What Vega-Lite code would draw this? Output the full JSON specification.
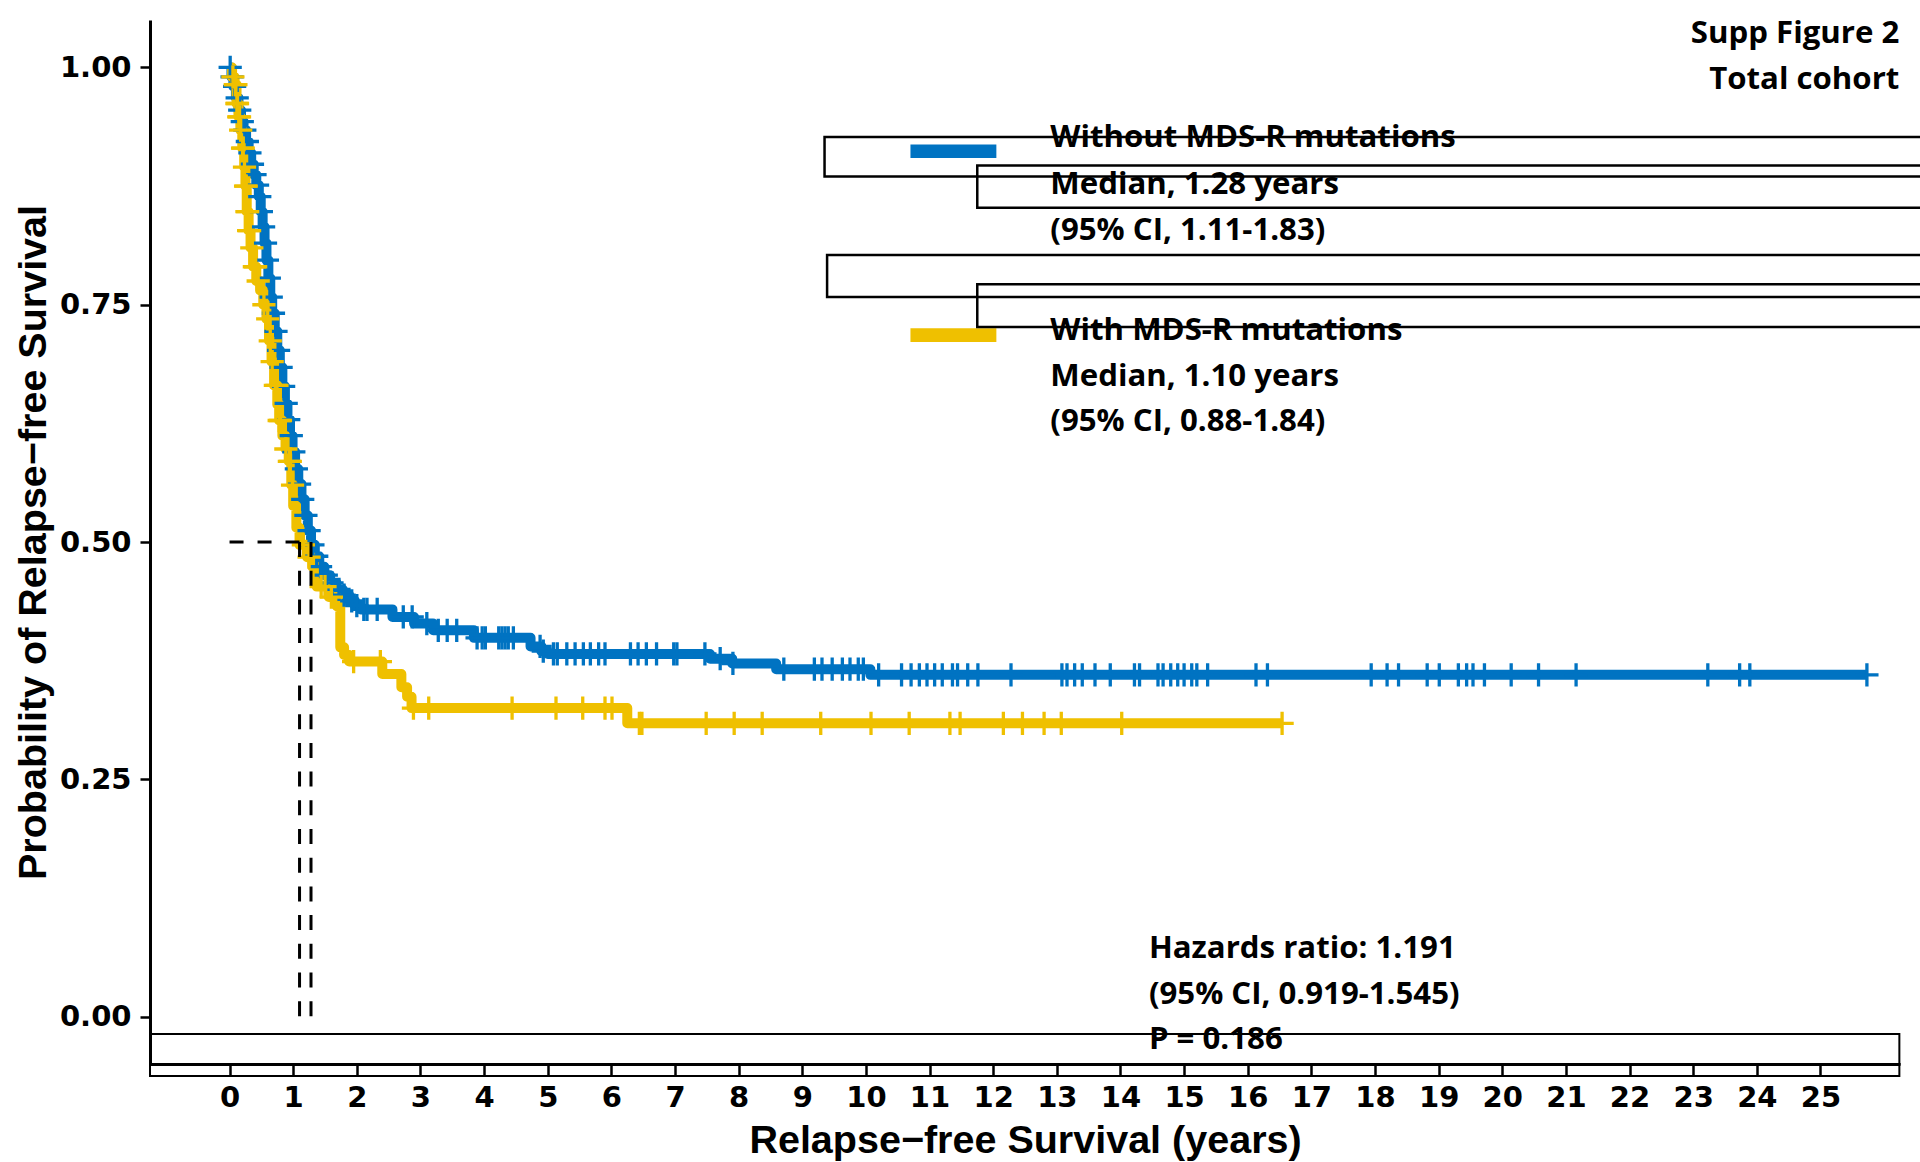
{
  "$schema": "https://vega.github.io/schema/vega-lite/v6.json",
  "autosize": {"type": "none"},
  "padding": {"left": 150, "top": 20, "right": 20, "bottom": 98},
  "width": 1750,
  "height": 1044,
  "background": "white",
  "config": {"view": {"stroke": null}},
  "resolve": {"axis": {"x": "independent", "y": "independent"}},
  "datasets": {
    "km": [
      {"g":"Without","t":0,"s":1.0},{"g":"Without","t":0.03,"s":0.99},{"g":"Without","t":0.06,"s":0.98},{"g":"Without","t":0.1,"s":0.968},{"g":"Without","t":0.14,"s":0.955},{"g":"Without","t":0.18,"s":0.943},{"g":"Without","t":0.22,"s":0.934},{"g":"Without","t":0.26,"s":0.922},{"g":"Without","t":0.3,"s":0.91},{"g":"Without","t":0.34,"s":0.898},{"g":"Without","t":0.38,"s":0.887},{"g":"Without","t":0.42,"s":0.876},{"g":"Without","t":0.46,"s":0.864},{"g":"Without","t":0.49,"s":0.848},{"g":"Without","t":0.52,"s":0.832},{"g":"Without","t":0.55,"s":0.815},{"g":"Without","t":0.58,"s":0.797},{"g":"Without","t":0.61,"s":0.778},{"g":"Without","t":0.64,"s":0.758},{"g":"Without","t":0.67,"s":0.741},{"g":"Without","t":0.71,"s":0.722},{"g":"Without","t":0.75,"s":0.702},{"g":"Without","t":0.79,"s":0.684},{"g":"Without","t":0.83,"s":0.664},{"g":"Without","t":0.87,"s":0.646},{"g":"Without","t":0.91,"s":0.629},{"g":"Without","t":0.95,"s":0.612},{"g":"Without","t":0.99,"s":0.595},{"g":"Without","t":1.03,"s":0.577},{"g":"Without","t":1.08,"s":0.561},{"g":"Without","t":1.13,"s":0.545},{"g":"Without","t":1.18,"s":0.528},{"g":"Without","t":1.23,"s":0.512},{"g":"Without","t":1.28,"s":0.497},{"g":"Without","t":1.34,"s":0.485},{"g":"Without","t":1.41,"s":0.474},{"g":"Without","t":1.49,"s":0.465},{"g":"Without","t":1.58,"s":0.457},{"g":"Without","t":1.68,"s":0.45},{"g":"Without","t":1.78,"s":0.444},{"g":"Without","t":1.88,"s":0.438},{"g":"Without","t":1.97,"s":0.433},{"g":"Without","t":2.06,"s":0.429},{"g":"Without","t":2.56,"s":0.421},{"g":"Without","t":2.9,"s":0.414},{"g":"Without","t":3.2,"s":0.407},{"g":"Without","t":3.84,"s":0.399},{"g":"Without","t":4.73,"s":0.39},{"g":"Without","t":4.9,"s":0.385},{"g":"Without","t":5.0,"s":0.382},{"g":"Without","t":7.55,"s":0.377},{"g":"Without","t":7.9,"s":0.372},{"g":"Without","t":8.59,"s":0.366},{"g":"Without","t":10.07,"s":0.36},{"g":"Without","t":25.73,"s":0.36},
      {"g":"With","t":0,"s":1.0},{"g":"With","t":0.04,"s":0.99},{"g":"With","t":0.08,"s":0.982},{"g":"With","t":0.11,"s":0.962},{"g":"With","t":0.14,"s":0.948},{"g":"With","t":0.17,"s":0.934},{"g":"With","t":0.2,"s":0.915},{"g":"With","t":0.23,"s":0.895},{"g":"With","t":0.25,"s":0.875},{"g":"With","t":0.27,"s":0.848},{"g":"With","t":0.3,"s":0.828},{"g":"With","t":0.33,"s":0.81},{"g":"With","t":0.37,"s":0.79},{"g":"With","t":0.42,"s":0.775},{"g":"With","t":0.48,"s":0.765},{"g":"With","t":0.53,"s":0.75},{"g":"With","t":0.58,"s":0.735},{"g":"With","t":0.62,"s":0.712},{"g":"With","t":0.66,"s":0.69},{"g":"With","t":0.7,"s":0.665},{"g":"With","t":0.75,"s":0.645},{"g":"With","t":0.78,"s":0.628},{"g":"With","t":0.83,"s":0.612},{"g":"With","t":0.88,"s":0.598},{"g":"With","t":0.93,"s":0.585},{"g":"With","t":0.97,"s":0.56},{"g":"With","t":1.0,"s":0.538},{"g":"With","t":1.05,"s":0.515},{"g":"With","t":1.1,"s":0.497},{"g":"With","t":1.22,"s":0.484},{"g":"With","t":1.3,"s":0.474},{"g":"With","t":1.37,"s":0.453},{"g":"With","t":1.56,"s":0.442},{"g":"With","t":1.69,"s":0.432},{"g":"With","t":1.74,"s":0.389},{"g":"With","t":1.8,"s":0.381},{"g":"With","t":1.88,"s":0.374},{"g":"With","t":2.4,"s":0.361},{"g":"With","t":2.7,"s":0.347},{"g":"With","t":2.79,"s":0.337},{"g":"With","t":2.86,"s":0.325},{"g":"With","t":6.25,"s":0.309},{"g":"With","t":16.54,"s":0.309}
    ],
    "cens": [
      {"g":"Without","t":0.01,"s":1.0},{"g":"Without","t":0.04,"s":0.99},{"g":"Without","t":0.08,"s":0.98},{"g":"Without","t":0.12,"s":0.968},{"g":"Without","t":0.16,"s":0.955},{"g":"Without","t":0.2,"s":0.943},{"g":"Without","t":0.24,"s":0.934},{"g":"Without","t":0.28,"s":0.922},{"g":"Without","t":0.32,"s":0.91},{"g":"Without","t":0.36,"s":0.898},{"g":"Without","t":0.4,"s":0.887},{"g":"Without","t":0.44,"s":0.876},{"g":"Without","t":0.475,"s":0.864},{"g":"Without","t":0.5,"s":0.848},{"g":"Without","t":0.535,"s":0.832},{"g":"Without","t":0.565,"s":0.815},{"g":"Without","t":0.595,"s":0.797},{"g":"Without","t":0.625,"s":0.778},{"g":"Without","t":0.655,"s":0.758},{"g":"Without","t":0.69,"s":0.741},{"g":"Without","t":0.73,"s":0.722},{"g":"Without","t":0.77,"s":0.702},{"g":"Without","t":0.81,"s":0.684},{"g":"Without","t":0.85,"s":0.664},{"g":"Without","t":0.89,"s":0.646},{"g":"Without","t":0.93,"s":0.629},{"g":"Without","t":0.97,"s":0.612},{"g":"Without","t":1.01,"s":0.595},{"g":"Without","t":1.05,"s":0.577},{"g":"Without","t":1.1,"s":0.561},{"g":"Without","t":1.15,"s":0.545},{"g":"Without","t":1.2,"s":0.528},{"g":"Without","t":1.25,"s":0.512},{"g":"Without","t":1.31,"s":0.497},{"g":"Without","t":1.37,"s":0.485},{"g":"Without","t":1.43,"s":0.474},{"g":"Without","t":1.52,"s":0.465},{"g":"Without","t":1.61,"s":0.457},{"g":"Without","t":1.72,"s":0.45},{"g":"Without","t":1.8,"s":0.444},{"g":"Without","t":1.92,"s":0.438},{"g":"Without","t":2.0,"s":0.433},{"g":"Without","t":2.11,"s":0.429},{"g":"Without","t":2.16,"s":0.429},{"g":"Without","t":2.32,"s":0.429},{"g":"Without","t":2.73,"s":0.421},{"g":"Without","t":2.87,"s":0.421},{"g":"Without","t":3.1,"s":0.414},{"g":"Without","t":3.28,"s":0.407},{"g":"Without","t":3.42,"s":0.407},{"g":"Without","t":3.57,"s":0.407},{"g":"Without","t":3.89,"s":0.399},{"g":"Without","t":3.97,"s":0.399},{"g":"Without","t":4.02,"s":0.399},{"g":"Without","t":4.23,"s":0.399},{"g":"Without","t":4.28,"s":0.399},{"g":"Without","t":4.33,"s":0.399},{"g":"Without","t":4.38,"s":0.399},{"g":"Without","t":4.46,"s":0.399},{"g":"Without","t":4.88,"s":0.39},{"g":"Without","t":4.93,"s":0.385},{"g":"Without","t":5.09,"s":0.382},{"g":"Without","t":5.15,"s":0.382},{"g":"Without","t":5.3,"s":0.382},{"g":"Without","t":5.43,"s":0.382},{"g":"Without","t":5.56,"s":0.382},{"g":"Without","t":5.67,"s":0.382},{"g":"Without","t":5.8,"s":0.382},{"g":"Without","t":5.9,"s":0.382},{"g":"Without","t":6.3,"s":0.382},{"g":"Without","t":6.42,"s":0.382},{"g":"Without","t":6.55,"s":0.382},{"g":"Without","t":6.71,"s":0.382},{"g":"Without","t":6.98,"s":0.382},{"g":"Without","t":7.03,"s":0.382},{"g":"Without","t":7.47,"s":0.382},{"g":"Without","t":7.71,"s":0.377},{"g":"Without","t":7.91,"s":0.372},{"g":"Without","t":8.71,"s":0.366},{"g":"Without","t":9.19,"s":0.366},{"g":"Without","t":9.31,"s":0.366},{"g":"Without","t":9.47,"s":0.366},{"g":"Without","t":9.63,"s":0.366},{"g":"Without","t":9.75,"s":0.366},{"g":"Without","t":9.88,"s":0.366},{"g":"Without","t":9.96,"s":0.366},{"g":"Without","t":10.2,"s":0.36},{"g":"Without","t":10.56,"s":0.36},{"g":"Without","t":10.71,"s":0.36},{"g":"Without","t":10.84,"s":0.36},{"g":"Without","t":10.96,"s":0.36},{"g":"Without","t":11.08,"s":0.36},{"g":"Without","t":11.2,"s":0.36},{"g":"Without","t":11.36,"s":0.36},{"g":"Without","t":11.44,"s":0.36},{"g":"Without","t":11.6,"s":0.36},{"g":"Without","t":11.76,"s":0.36},{"g":"Without","t":12.28,"s":0.36},{"g":"Without","t":13.08,"s":0.36},{"g":"Without","t":13.16,"s":0.36},{"g":"Without","t":13.28,"s":0.36},{"g":"Without","t":13.4,"s":0.36},{"g":"Without","t":13.6,"s":0.36},{"g":"Without","t":13.84,"s":0.36},{"g":"Without","t":14.22,"s":0.36},{"g":"Without","t":14.3,"s":0.36},{"g":"Without","t":14.59,"s":0.36},{"g":"Without","t":14.67,"s":0.36},{"g":"Without","t":14.79,"s":0.36},{"g":"Without","t":14.9,"s":0.36},{"g":"Without","t":15.0,"s":0.36},{"g":"Without","t":15.12,"s":0.36},{"g":"Without","t":15.2,"s":0.36},{"g":"Without","t":15.37,"s":0.36},{"g":"Without","t":16.13,"s":0.36},{"g":"Without","t":16.31,"s":0.36},{"g":"Without","t":17.94,"s":0.36},{"g":"Without","t":18.19,"s":0.36},{"g":"Without","t":18.37,"s":0.36},{"g":"Without","t":18.82,"s":0.36},{"g":"Without","t":19.01,"s":0.36},{"g":"Without","t":19.31,"s":0.36},{"g":"Without","t":19.44,"s":0.36},{"g":"Without","t":19.54,"s":0.36},{"g":"Without","t":19.72,"s":0.36},{"g":"Without","t":20.14,"s":0.36},{"g":"Without","t":20.57,"s":0.36},{"g":"Without","t":21.16,"s":0.36},{"g":"Without","t":23.23,"s":0.36},{"g":"Without","t":23.73,"s":0.36},{"g":"Without","t":23.89,"s":0.36},{"g":"Without","t":25.73,"s":0.36},
      {"g":"With","t":0.053,"s":0.99},{"g":"With","t":0.09,"s":0.982},{"g":"With","t":0.1,"s":0.982},{"g":"With","t":0.116,"s":0.962},{"g":"With","t":0.125,"s":0.962},{"g":"With","t":0.145,"s":0.948},{"g":"With","t":0.157,"s":0.948},{"g":"With","t":0.175,"s":0.934},{"g":"With","t":0.205,"s":0.915},{"g":"With","t":0.215,"s":0.915},{"g":"With","t":0.235,"s":0.895},{"g":"With","t":0.252,"s":0.875},{"g":"With","t":0.262,"s":0.875},{"g":"With","t":0.273,"s":0.848},{"g":"With","t":0.285,"s":0.848},{"g":"With","t":0.3,"s":0.828},{"g":"With","t":0.315,"s":0.828},{"g":"With","t":0.35,"s":0.81},{"g":"With","t":0.39,"s":0.79},{"g":"With","t":0.41,"s":0.79},{"g":"With","t":0.45,"s":0.775},{"g":"With","t":0.54,"s":0.75},{"g":"With","t":0.6,"s":0.735},{"g":"With","t":0.64,"s":0.712},{"g":"With","t":0.67,"s":0.69},{"g":"With","t":0.72,"s":0.665},{"g":"With","t":0.745,"s":0.665},{"g":"With","t":0.78,"s":0.628},{"g":"With","t":0.8,"s":0.628},{"g":"With","t":0.885,"s":0.598},{"g":"With","t":0.94,"s":0.585},{"g":"With","t":0.955,"s":0.585},{"g":"With","t":0.99,"s":0.56},{"g":"With","t":1.16,"s":0.497},{"g":"With","t":1.25,"s":0.484},{"g":"With","t":1.44,"s":0.453},{"g":"With","t":1.5,"s":0.453},{"g":"With","t":1.6,"s":0.442},{"g":"With","t":1.95,"s":0.374},{"g":"With","t":2.37,"s":0.374},{"g":"With","t":2.89,"s":0.325},{"g":"With","t":3.13,"s":0.325},{"g":"With","t":4.44,"s":0.325},{"g":"With","t":5.13,"s":0.325},{"g":"With","t":5.55,"s":0.325},{"g":"With","t":5.9,"s":0.325},{"g":"With","t":6.01,"s":0.325},{"g":"With","t":6.44,"s":0.309},{"g":"With","t":6.48,"s":0.309},{"g":"With","t":7.49,"s":0.309},{"g":"With","t":7.93,"s":0.309},{"g":"With","t":8.37,"s":0.309},{"g":"With","t":9.29,"s":0.309},{"g":"With","t":10.08,"s":0.309},{"g":"With","t":10.68,"s":0.309},{"g":"With","t":11.32,"s":0.309},{"g":"With","t":11.48,"s":0.309},{"g":"With","t":12.16,"s":0.309},{"g":"With","t":12.46,"s":0.309},{"g":"With","t":12.8,"s":0.309},{"g":"With","t":13.07,"s":0.309},{"g":"With","t":14.02,"s":0.309},{"g":"With","t":16.54,"s":0.309}
    ]
  },
  "layer": [
    {
      "data": {"name": "km"},
      "transform": [{"filter": "datum.g == 'Without'"}],
      "mark": {"type": "line", "interpolate": "step-after", "strokeWidth": 10, "strokeJoin": "round", "strokeCap": "butt", "color": "#0073C2"},
      "encoding": {
        "x": {"field": "t", "type": "quantitative", "scale": {"domain": [-1.25, 26.25], "nice": false, "zero": false},
          "axis": {"values": [0,1,2,3,4,5,6,7,8,9,10,11,12,13,14,15,16,17,18,19,20,21,22,23,24,25], "grid": false,
            "domainColor": "black", "domainWidth": 3, "tickColor": "black", "tickWidth": 2.5, "tickSize": 12,
            "labelFont": "DejaVu Sans", "labelFontWeight": "bold", "labelFontSize": 29, "labelColor": "black", "labelPadding": 7, "labelFlush": false, "labelOverlap": false,
            "title": "Relapse−free Survival (years)", "titleFont": "Liberation Sans", "titleFontWeight": "bold", "titleFontSize": 39.5, "titleColor": "black",
            "titleX": 875, "titleY": 88, "titleBaseline": "alphabetic", "titleAlign": "center"}},
        "y": {"field": "s", "type": "quantitative", "scale": {"domain": [-0.05, 1.05], "nice": false, "zero": false},
          "axis": {"values": [0, 0.25, 0.5, 0.75, 1], "format": ".2f", "grid": false,
            "domainColor": "black", "domainWidth": 3, "tickColor": "black", "tickWidth": 2.5, "tickSize": 10,
            "labelFont": "DejaVu Sans", "labelFontWeight": "bold", "labelFontSize": 29, "labelColor": "black", "labelPadding": 9, "labelFlush": false, "labelOverlap": false,
            "title": "Probability of Relapse−free Survival", "titleFont": "Liberation Sans", "titleFontWeight": "bold", "titleFontSize": 39.5, "titleColor": "black",
            "titleX": -105, "titleY": 522, "titleAngle": -90, "titleBaseline": "alphabetic", "titleAlign": "center"}}
      }
    },
    {
      "data": {"name": "km"},
      "transform": [{"filter": "datum.g == 'With'"}],
      "mark": {"type": "line", "interpolate": "step-after", "strokeWidth": 10, "strokeJoin": "round", "strokeCap": "butt", "color": "#EFC000"},
      "encoding": {
        "x": {"field": "t", "type": "quantitative", "axis": null},
        "y": {"field": "s", "type": "quantitative", "axis": null}
      }
    },
    {
      "data": {"name": "cens"},
      "transform": [{"filter": "datum.g == 'Without'"}],
      "mark": {"type": "point", "shape": "M-1,0H1M0,-1V1", "size": 540, "filled": false, "strokeWidth": 3.3, "color": "#0073C2", "opacity": 1},
      "encoding": {
        "x": {"field": "t", "type": "quantitative", "axis": null},
        "y": {"field": "s", "type": "quantitative", "axis": null}
      }
    },
    {
      "data": {"name": "cens"},
      "transform": [{"filter": "datum.g == 'With'"}],
      "mark": {"type": "point", "shape": "M-1,0H1M0,-1V1", "size": 540, "filled": false, "strokeWidth": 3.3, "color": "#EFC000", "opacity": 1},
      "encoding": {
        "x": {"field": "t", "type": "quantitative", "axis": null},
        "y": {"field": "s", "type": "quantitative", "axis": null}
      }
    },
    {
      "data": {"values": [{}]},
      "mark": {"type": "rule", "strokeDash": [14, 14], "strokeWidth": 3, "color": "black"},
      "encoding": {
        "x": {"datum": 0, "type": "quantitative", "axis": null},
        "x2": {"datum": 1.28},
        "y": {"datum": 0.5, "type": "quantitative", "axis": null}
      }
    },
    {
      "data": {"values": [{}]},
      "mark": {"type": "rule", "strokeDash": [15, 13.7], "strokeWidth": 3, "color": "black"},
      "encoding": {
        "x": {"datum": 1.10, "type": "quantitative", "axis": null},
        "y": {"datum": 0.5, "type": "quantitative", "axis": null},
        "y2": {"datum": 0}
      }
    },
    {
      "data": {"values": [{}]},
      "mark": {"type": "rule", "strokeDash": [15, 13.7], "strokeWidth": 3, "color": "black"},
      "encoding": {
        "x": {"datum": 1.28, "type": "quantitative", "axis": null},
        "y": {"datum": 0.5, "type": "quantitative", "axis": null},
        "y2": {"datum": 0}
      }
    },
    {
      "data": {"values": [{}]},
      "mark": {"type": "rect", "color": "#0073C2"},
      "encoding": {
        "x": {"datum": 10.70, "type": "quantitative", "axis": null},
        "x2": {"datum": 12.05},
        "y": {"datum": 0.9189, "type": "quantitative", "axis": null},
        "y2": {"datum": 0.9045}
      }
    },
    {
      "data": {"values": [{}]},
      "mark": {"type": "rect", "color": "#EFC000"},
      "encoding": {
        "x": {"datum": 10.70, "type": "quantitative", "axis": null},
        "x2": {"datum": 12.05},
        "y": {"datum": 0.7251, "type": "quantitative", "axis": null},
        "y2": {"datum": 0.7107}
      }
    },
    {
      "data": {"values": [{}]},
      "mark": {"type": "text", "text": ["Supp Figure 2", "Total cohort"], "align": "right", "baseline": "alphabetic", "lineHeight": 45.6, "font": "Open Sans", "fontWeight": "bold", "fontSize": 31.2, "color": "black"},
      "encoding": {
        "x": {"datum": 26.24, "type": "quantitative", "axis": null},
        "y": {"datum": 1.0256, "type": "quantitative", "axis": null}
      }
    },
    {
      "data": {"values": [{}]},
      "mark": {"type": "text", "text": ["Without MDS-R mutations", "Median, 1.28 years", "(95% CI, 1.11-1.83)"], "align": "left", "baseline": "alphabetic", "lineHeight": 46.6, "font": "Open Sans", "fontWeight": "bold", "fontSize": 31.2, "color": "black"},
      "encoding": {
        "x": {"datum": 12.898, "type": "quantitative", "axis": null},
        "y": {"datum": 0.9161, "type": "quantitative", "axis": null}
      }
    },
    {
      "data": {"values": [{}]},
      "mark": {"type": "text", "text": ["With MDS-R mutations", "Median, 1.10 years", "(95% CI, 0.88-1.84)"], "align": "left", "baseline": "alphabetic", "lineHeight": 45.5, "font": "Open Sans", "fontWeight": "bold", "fontSize": 31.2, "color": "black"},
      "encoding": {
        "x": {"datum": 12.898, "type": "quantitative", "axis": null},
        "y": {"datum": 0.7125, "type": "quantitative", "axis": null}
      }
    },
    {
      "data": {"values": [{}]},
      "mark": {"type": "text", "text": ["Hazards ratio: 1.191", "(95% CI, 0.919-1.545)", "P = 0.186"], "align": "left", "baseline": "alphabetic", "lineHeight": 45.4, "font": "Open Sans", "fontWeight": "bold", "fontSize": 31.2, "color": "black"},
      "encoding": {
        "x": {"datum": 14.447, "type": "quantitative", "axis": null},
        "y": {"datum": 0.0613, "type": "quantitative", "axis": null}
      }
    },
    {
      "data": {"values": [{}]},
      "mark": {"type": "rect", "fillOpacity": 0, "stroke": "black", "strokeWidth": 2.5},
      "encoding": {
        "x": {"datum": 9.35, "type": "quantitative", "axis": null},
        "x2": {"datum": 27.5},
        "y": {"datum": 0.9266, "type": "quantitative", "axis": null},
        "y2": {"datum": 0.8852}
      }
    },
    {
      "data": {"values": [{}]},
      "mark": {"type": "rect", "fillOpacity": 0, "stroke": "black", "strokeWidth": 2.5},
      "encoding": {
        "x": {"datum": 11.75, "type": "quantitative", "axis": null},
        "x2": {"datum": 27.5},
        "y": {"datum": 0.8968, "type": "quantitative", "axis": null},
        "y2": {"datum": 0.8522}
      }
    },
    {
      "data": {"values": [{}]},
      "mark": {"type": "rect", "fillOpacity": 0, "stroke": "black", "strokeWidth": 2.5},
      "encoding": {
        "x": {"datum": 9.39, "type": "quantitative", "axis": null},
        "x2": {"datum": 27.5},
        "y": {"datum": 0.8025, "type": "quantitative", "axis": null},
        "y2": {"datum": 0.7581}
      }
    },
    {
      "data": {"values": [{}]},
      "mark": {"type": "rect", "fillOpacity": 0, "stroke": "black", "strokeWidth": 2.5},
      "encoding": {
        "x": {"datum": 11.75, "type": "quantitative", "axis": null},
        "x2": {"datum": 27.5},
        "y": {"datum": 0.7715, "type": "quantitative", "axis": null},
        "y2": {"datum": 0.7265}
      }
    },
    {
      "data": {"values": [{}]},
      "mark": {"type": "rect", "fillOpacity": 0, "stroke": "black", "strokeWidth": 2},
      "encoding": {
        "x": {"datum": -1.25, "type": "quantitative", "axis": null},
        "x2": {"datum": 26.24},
        "y": {"datum": -0.0184, "type": "quantitative", "axis": null},
        "y2": {"datum": -0.05}
      }
    },
    {
      "data": {"values": [{}]},
      "mark": {"type": "rect", "fillOpacity": 0, "stroke": "black", "strokeWidth": 2},
      "encoding": {
        "x": {"datum": -1.25, "type": "quantitative", "axis": null},
        "x2": {"datum": 26.24},
        "y": {"datum": -0.05, "type": "quantitative", "axis": null},
        "y2": {"datum": -0.0627}
      }
    }
  ]
}
